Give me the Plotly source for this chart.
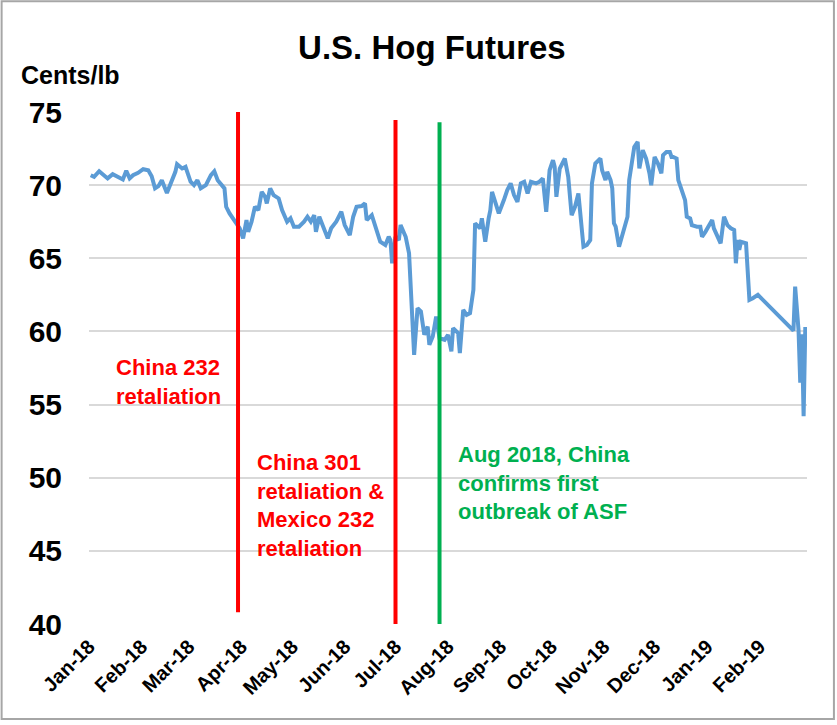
import pandas as pd
import plotly.graph_objects as go

# ---- data ----
base_date = "2018-01-01"
day_offsets = [1, 3, 6, 9, 11, 14, 17, 20, 22, 24, 26, 29, 32, 35, 37, 39, 41, 43, 46, 48,
               51, 52, 55, 57, 60, 62, 64, 66, 69, 72, 74, 76, 78, 80, 81, 83, 86, 89, 91, 93,
               94, 96, 98, 100, 102, 104, 105, 107, 109, 112, 114, 117, 119, 121, 124, 127, 129, 131, 133, 134,
               136, 138, 140, 141, 143, 146, 149, 151, 154, 156, 158, 161, 163, 164, 167, 169, 172, 175, 177, 178,
               179, 181, 183, 184, 187, 189, 192, 194, 196, 198, 200, 201, 203, 205, 207, 210, 212, 214, 215, 218,
               219, 221, 223, 225, 227, 228, 231, 232, 234, 236, 237, 238, 241, 242, 245, 247, 249, 251, 253, 255,
               257, 259, 261, 264, 266, 268, 270, 272, 274, 275, 276, 278, 281, 283, 285, 287, 289, 292, 294, 296,
               297, 299, 302, 303, 305, 306, 308, 309, 310, 311, 313, 315, 318, 319, 321, 322, 324, 325, 327, 329,
               331, 332, 334, 336, 338, 339, 341, 343, 344, 345, 347, 348, 350, 352, 353, 355, 356, 359, 361, 362,
               364, 367, 368, 369, 371, 373, 375, 377, 379, 381, 382, 383, 384, 385, 388, 390, 392, 395, 416, 417,
               419, 420, 421, 422, 423]
hog_futures = [70.68, 70.57, 70.95, 70.68, 70.46, 70.75, 70.57, 70.39, 70.98, 70.46, 70.68, 70.84, 71.09, 71.02, 70.61, 69.78, 69.93, 70.34, 69.47, 70.00,
               70.91, 71.43, 71.14, 71.25, 70.23, 70.00, 70.34, 69.78, 70.00, 70.68, 70.95, 70.34, 70.00, 69.78, 68.52, 68.07, 67.56, 67.05, 66.36, 67.61,
               66.81, 67.50, 68.52, 68.29, 69.54, 69.20, 68.75, 69.78, 69.32, 69.09, 68.29, 67.50, 67.73, 67.16, 67.16, 67.50, 67.84, 67.50, 67.95, 66.81,
               67.84, 67.27, 66.71, 66.36, 67.05, 67.50, 68.18, 67.27, 66.59, 67.84, 68.52, 68.57, 68.75, 67.61, 67.95, 67.16, 66.13, 65.91, 66.47, 66.25,
               64.66, 66.47, 66.25, 67.27, 66.47, 65.34, 58.40, 61.59, 61.36, 59.77, 60.33, 59.09, 59.65, 61.02, 59.54, 59.43, 59.77, 58.63, 60.22, 59.88,
               58.52, 61.47, 61.13, 61.25, 62.84, 67.39, 67.05, 67.73, 66.13, 67.73, 68.29, 69.54, 68.52, 68.07, 68.98, 69.66, 70.12, 69.32, 68.86, 70.12,
               70.23, 69.43, 70.23, 70.12, 70.23, 70.46, 68.18, 71.02, 71.71, 71.25, 69.20, 71.14, 71.82, 70.57, 67.95, 68.52, 69.43, 65.79, 65.91, 66.25,
               70.12, 71.48, 71.82, 71.02, 70.34, 70.91, 70.34, 69.78, 67.39, 67.16, 65.79, 66.71, 67.84, 70.34, 71.82, 72.61, 72.95, 71.14, 72.39, 71.82,
               70.80, 70.00, 71.93, 71.48, 70.80, 72.05, 72.27, 72.27, 71.93, 71.93, 71.82, 70.34, 69.66, 68.98, 67.84, 67.73, 67.27, 67.16, 67.16, 66.47,
               66.81, 67.39, 67.61, 67.05, 66.47, 66.02, 67.84, 67.27, 67.05, 66.93, 64.66, 66.25, 65.57, 66.13, 66.02, 62.16, 62.27, 62.50, 60.05, 63.06,
               60.10, 56.50, 59.80, 54.20, 60.30]

month_ticks = ["2018-01-01", "2018-02-01", "2018-03-01", "2018-04-01", "2018-05-01", "2018-06-01", "2018-07-01",
               "2018-08-01", "2018-09-01", "2018-10-01", "2018-11-01", "2018-12-01", "2019-01-01", "2019-02-01"]
month_labels = ["Jan-18", "Feb-18", "Mar-18", "Apr-18", "May-18", "Jun-18", "Jul-18",
                "Aug-18", "Sep-18", "Oct-18", "Nov-18", "Dec-18", "Jan-19", "Feb-19"]
y_ticks = [40, 45, 50, 55, 60, 65, 70, 75]

event_dates = ["2018-03-30", "2018-07-01", "2018-07-27"]
event_bottoms = [40.8, 40.0, 40.0]
event_tops = [75.0, 74.45, 74.3]
event_colors = ["#FF0000", "#FF0000", "#00B050"]

note_texts = ["China 232<br>retaliation",
              "China 301<br>retaliation &<br>Mexico 232<br>retaliation",
              "Aug 2018, China<br>confirms first<br>outbreak of ASF"]
note_dates = ["2018-01-16", "2018-04-09", "2018-08-06"]
note_tops = [58.5, 52.0, 52.6]
note_colors = ["#FF0000", "#FF0000", "#00B050"]

dates = pd.Timestamp(base_date) + pd.to_timedelta(day_offsets, unit="D")

FONT = "Liberation Sans, Arial, sans-serif"

fig = go.Figure()
fig.add_trace(go.Scatter(x=dates, y=hog_futures, mode="lines",
                         line=dict(color="#5B9BD5", width=4), showlegend=False,
                         hoverinfo="x+y"))

for d, y0, y1, c in zip(event_dates, event_bottoms, event_tops, event_colors):
    fig.add_shape(type="line", xref="x", yref="y", x0=d, x1=d, y0=y0, y1=y1,
                  line=dict(color=c, width=4))

for t, d, y, c in zip(note_texts, note_dates, note_tops, note_colors):
    fig.add_annotation(text=t, x=d, y=y, xref="x", yref="y", xanchor="left", yanchor="top",
                       align="left", showarrow=False,
                       font=dict(family=FONT, size=22, color=c, weight="bold"))

fig.add_annotation(text="Cents/lb", xref="paper", yref="paper", x=-0.097, y=1.072,
                   xanchor="left", yanchor="middle", showarrow=False,
                   font=dict(family=FONT, size=25, color="#000000", weight="bold"))

# outer frame
fig.add_shape(type="rect", xref="paper", yref="paper", x0=-0.1217, x1=1.0375, y0=-0.1854, y1=1.2165,
              line=dict(color="#A6A6A6", width=2), fillcolor="rgba(0,0,0,0)", layer="below")

fig.update_layout(
    width=837, height=725,
    margin=dict(l=88.5, r=29.5, t=111.7, b=101),
    paper_bgcolor="white", plot_bgcolor="white",
    title=dict(text="U.S. Hog Futures", x=0.516, y=0.935, xanchor="center", yanchor="middle",
               font=dict(family=FONT, size=33, color="#000000", weight="bold")),
    xaxis=dict(type="date", range=["2018-01-01", "2019-03-01"],
               tickmode="array", tickvals=month_ticks, ticktext=month_labels,
               tickangle=-45, showgrid=False, zeroline=False, showline=False,
               ticks="", ticklabelstandoff=6,
               tickfont=dict(family=FONT, size=20, color="#000000", weight="bold")),
    yaxis=dict(range=[40, 75], tickmode="array", tickvals=y_ticks,
               showgrid=True, gridcolor="#D9D9D9", gridwidth=1.5, zeroline=False,
               showline=False, ticks="", ticklabelstandoff=26,
               tickfont=dict(family=FONT, size=30, color="#000000", weight="bold")),
)

fig.write_html("out.html", config={"displayModeBar": False},
               post_script="document.body.style.margin='0';")
